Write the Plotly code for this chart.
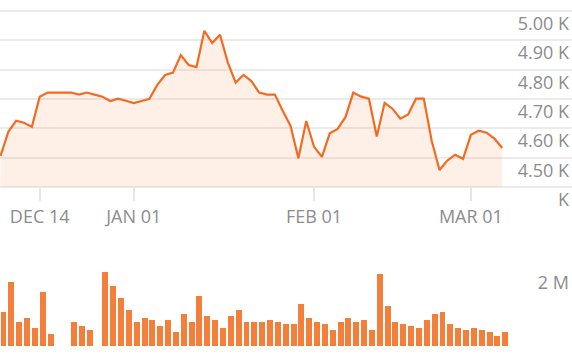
import plotly.graph_objects as go

# trading-day index (one slot per session)
days = list(range(65))

price = [4506, 4588, 4626, 4619, 4605, 4708, 4722, 4722, 4722, 4722,
         4715, 4722, 4715, 4708, 4693, 4701, 4694, 4686, 4693, 4701,
         4748, 4782, 4790, 4850, 4816, 4809, 4932, 4891, 4919, 4824,
         4756, 4782, 4761, 4722, 4715, 4715, 4660, 4608, 4498, 4625,
         4537, 4503, 4583, 4598, 4638, 4722, 4708, 4701, 4572, 4687,
         4667, 4633, 4647, 4701, 4701, 4558, 4458, 4490, 4510, 4496,
         4578, 4592, 4585, 4565, 4533]

volume_m = [0.89, 1.68, 0.63, 0.74, 0.47, 1.42, 0.32, None, None, 0.63,
            0.53, 0.42, None, 1.95, 1.58, 1.26, 0.95, 0.63, 0.74, 0.68,
            0.53, 0.68, 0.37, 0.84, 0.63, 1.32, 0.79, 0.68, 0.47, 0.79,
            0.95, 0.63, 0.63, 0.63, 0.68, 0.63, 0.58, 0.58, 1.11, 0.74,
            0.63, 0.58, 0.42, 0.63, 0.74, 0.63, 0.68, 0.42, 1.89, 1.05,
            0.63, 0.58, 0.53, 0.47, 0.68, 0.84, 0.89, 0.58, 0.47, 0.42,
            0.47, 0.42, 0.37, 0.26, 0.37]
volume = [v * 1e6 if v is not None else None for v in volume_m]

x_tick_idx = [5, 17, 40, 60]
x_tick_labels = ["DEC 14", "JAN 01", "FEB 01", "MAR 01"]

y_base = 4400
y_tick_vals = [4400, 4500, 4600, 4700, 4800, 4900, 5000]
y_tick_labels = ["K", "4.50 K", "4.60 K", "4.70 K", "4.80 K", "4.90 K", "5.00 K"]

vol_tick_vals = [2e6]
vol_tick_labels = ["2 M"]

LINE = "#f26b21"
FILL = "rgba(242,107,33,0.11)"
BAR = "#f47f3a"
TXT = "#8c8c8c"
FONT = "Open Sans"

H = 356
fig = go.Figure()
# baseline for the area fill
fig.add_trace(go.Scatter(
    x=days, y=[y_base] * len(days), mode="lines",
    line=dict(width=0, color="rgba(0,0,0,0)"),
    xaxis="x", yaxis="y", hoverinfo="skip"))
fig.add_trace(go.Scatter(
    x=days, y=price, mode="lines",
    line=dict(color=LINE, width=2.2),
    fill="tonexty", fillcolor=FILL,
    xaxis="x", yaxis="y", hoverinfo="skip"))
fig.add_trace(go.Bar(
    x=days, y=volume, marker=dict(color=BAR, line=dict(width=0)),
    width=0.76, offset=0,
    xaxis="x2", yaxis="y2", hoverinfo="skip"))

xr = [-0.064, 72.9]
px_per_unit = 0.2933
bottom_px = 212
y_lo = y_base - (bottom_px - 187) / px_per_unit
y_hi = y_base + 187 / px_per_unit

fig.update_layout(
    width=572, height=H,
    margin=dict(l=0, r=0, t=0, b=0),
    paper_bgcolor="white", plot_bgcolor="white",
    showlegend=False,
    font=dict(family=FONT, size=18, color=TXT),
    xaxis=dict(domain=[0, 1], range=xr, anchor="free",
               position=(H - 187) / H,
               tickvals=x_tick_idx, ticktext=x_tick_labels,
               ticks="outside", ticklen=13, tickwidth=2, tickcolor="#e6e6e6",
               showgrid=False, zeroline=False, showline=False,
               tickfont=dict(family=FONT, size=18, color=TXT)),
    yaxis=dict(domain=[(H - bottom_px) / H, 1], range=[y_lo, y_hi],
               side="right", ticklabelposition="inside bottom",
               tickvals=y_tick_vals, ticktext=y_tick_labels,
               showgrid=True, gridcolor="#ebebeb", gridwidth=2,
               zeroline=False, showline=False, ticks="",
               tickfont=dict(family=FONT, size=18, color=TXT)),
    xaxis2=dict(domain=[0, 1], range=xr, anchor="y2", matches="x",
                showticklabels=False, ticks="", showgrid=False,
                zeroline=False, showline=False),
    yaxis2=dict(domain=[10 / H, 94 / H], range=[0, 2.2105e6],
                side="right", ticklabelposition="inside bottom",
                tickvals=vol_tick_vals, ticktext=vol_tick_labels,
                showgrid=False, zeroline=False, showline=False, ticks="",
                tickfont=dict(family=FONT, size=18, color=TXT)),
    bargap=0,
)

fig.write_html("out.html")
